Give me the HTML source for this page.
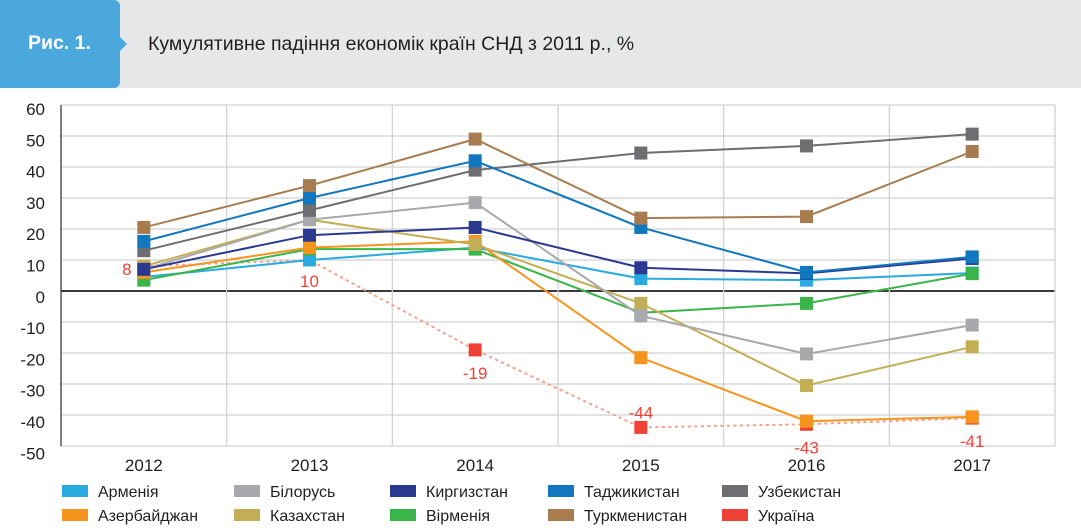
<!DOCTYPE html>
<html><head><meta charset="utf-8"><style>
body{margin:0;width:1081px;height:531px;background:#fff;font-family:"Liberation Sans","DejaVu Sans",sans-serif;overflow:hidden;position:relative}
.hdr{position:absolute;left:0;top:0;width:1081px;height:88px;background:#e6e7e9}
.tab{position:absolute;left:0;top:0;width:120px;height:88px;background:#4ba8dc;border-radius:0 6px 6px 0}
.tab:after{content:"";position:absolute;right:-7px;top:37px;border-left:7px solid #4ba8dc;border-top:7px solid transparent;border-bottom:7px solid transparent}
.tab span{position:absolute;left:28px;top:32px;color:#fff;font-weight:bold;font-size:19.5px}
.title{position:absolute;left:148px;top:33px;font-size:19.5px;color:#231f20}
svg{position:absolute;left:0;top:0}
</style></head><body>
<div class="hdr"></div>
<div class="tab"><span>Рис. 1.</span></div>
<div class="title">Кумулятивне падіння економік країн СНД з 2011 р., %</div>
<svg id="c" width="1081" height="531"></svg>
<script>
const years=["2012","2013","2014","2015","2016","2017"];
const yTicks=[60,50,40,30,20,10,0,-10,-20,-30,-40,-50];
const names=["Армені\u044f","Азербайджан","Білорусь","Казахстан","Киргизстан","Вірменія","Таджикистан","Туркменистан","Узбекистан","Україна"];
const armenia=[4.5,10,14,4,3.5,5.8];
const azerbaijan=[6,14,16,-21.5,-42,-40.6];
const belarus=[7,23,28.5,-8,-20.3,-11];
const kazakhstan=[8,23,15,-4,-30.5,-18];
const kyrgyzstan=[7,18,20.5,7.5,5.7,10.5];
const virmenia=[3.5,13.5,13.5,-7,-4,5.6];
const tajikistan=[16,30,42,20.5,6,11];
const turkmenistan=[20.5,34,49,23.5,24,45];
const uzbekistan=[13,26,39,44.5,46.8,50.6];
const ukraine=[8,10,-19,-44,-43,-41];
const ukraineLabels=["8","10","-19","-44","-43","-41"];
const colors=["#29aae1","#f7941d","#a7a9ac","#c4ae55","#2b3990","#39b54a","#1177bf","#a97c50","#6d6e71","#ef4136"];
const series=[armenia,azerbaijan,belarus,kazakhstan,kyrgyzstan,virmenia,tajikistan,turkmenistan,uzbekistan,ukraine];
const NS="http://www.w3.org/2000/svg",svg=document.getElementById('c');
const L=61,R=1055,step=(R-L)/years.length;
const x=i=>L+step*(i+0.5);
const y=v=>291-v*3.1;
function mk(t,a,p){const e=document.createElementNS(NS,t);for(const k in a)e.setAttribute(k,a[k]);(p||svg).appendChild(e);return e;}
yTicks.forEach(v=>{
 const g=mk('line',{x1:L,x2:R,y1:y(v),y2:y(v),stroke:v===0?'#3a3a3a':'#d1d3d4','stroke-width':v===0?2:1.3});
 
 
 const ly=115+(60-v)*3.13;
 const t=mk('text',{x:45,y:ly,'text-anchor':'end','font-size':17,fill:'#231f20'});t.textContent=v;
 
 
});
for(let i=0;i<=years.length;i++){
 const g=mk('line',{x1:L+step*i,x2:L+step*i,y1:y(60),y2:y(-50),stroke:i===0?'#3a3a3a':'#d1d3d4','stroke-width':1.3});
 
 
}
years.forEach((yr,i)=>{
 const t=mk('text',{x:x(i),y:471,'text-anchor':'middle','font-size':17,fill:'#231f20'});t.textContent=yr;
 
 
});
const order=[9,0,5,1,3,2,4,8,6,7];
order.forEach(si=>{
 const d=series[si];
 const pts=d.map((v,i)=>x(i)+','+y(v)).join(' ');
 const pl=mk('polyline',{points:pts,fill:'none',stroke:si===9?'#f4a08a':colors[si],'stroke-width':2,'stroke-dasharray':si===9?'1.5 5':'none','stroke-linecap':'round'});
 
 
});
order.forEach(si=>{
 const d=series[si];
 d.forEach((v,i)=>{
  const r=mk('rect',{x:x(i)-6.5,y:y(v)-6.5,width:13,height:13,fill:colors[si]});
  
  
 });
});
const lblOff=[[-17,4],[0,22],[0,24],[0,-14],[0,24],[0,24]];
ukraine.forEach((v,i)=>{
 const t=mk('text',{x:x(i)+lblOff[i][0],y:y(v)+lblOff[i][1]+5,'text-anchor':'middle','font-size':17,fill:'#ef4136'});
 t.textContent=ukraineLabels[i];
 
 
});
const legOrder=[[0,2,4,6,8],[1,3,5,7,9]];
const colX=[62,234,390,548,722];
legOrder.forEach((row,r)=>row.forEach((si,c)=>{
 const yy=r===0?491:515;
 const s=mk('rect',{x:colX[c],y:yy-6,width:26,height:12,fill:colors[si]});
 
 
 const t=mk('text',{x:colX[c]+36,y:yy+6,'font-size':16,fill:'#231f20'});t.textContent=names[si];
 
 
}));
</script>
</body></html>
